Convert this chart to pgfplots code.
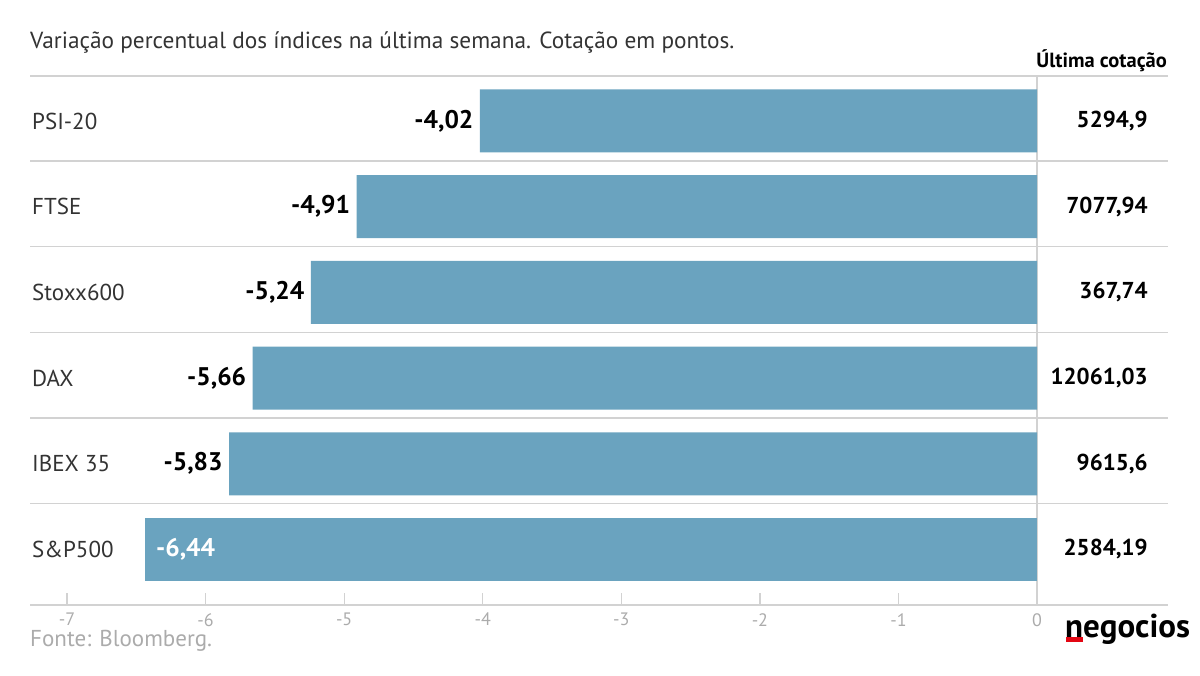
\documentclass[border=0pt]{standalone}
\usepackage{pgfplots}
\pgfplotsset{compat=1.18}
\usepackage{fontspec}
\setmainfont{PT Sans}

\definecolor{barblue}{HTML}{6AA3BF}
\definecolor{sepgray}{HTML}{D2D2D2}
\definecolor{txtgray}{HTML}{333333}
\definecolor{tickgray}{HTML}{ABABAB}
\definecolor{logored}{HTML}{E30613}

% variação semanal (%)
\pgfplotstableread{
y    val    lab
0   -4.02   -4,02
-1  -4.91   -4,91
-2  -5.24   -5,24
-3  -5.66   -5,66
-4  -5.83   -5,83
}\vartab
\pgfplotstableread{
y    val    lab
-5  -6.44   -6,44
}\sptab
% última cotação
\pgfplotstableread{
x     y    last
0.80  0    5294,9
0.80  -1   7077,94
0.80  -2   367,74
0.80  -3   12061,03
0.80  -4   9615,6
0.80  -5   2584,19
}\lasttab

\begin{document}
\begin{tikzpicture}
  \path (0,0) rectangle (1200pt,676pt);

  \begin{axis}[
    at={(30pt,71pt)}, anchor=south west,
    scale only axis, width=1138pt, height=529pt,
    xmin=-7.267, xmax=0.945, ymin=-5.648, ymax=0.525,
    clip=false,
    axis x line=bottom, axis y line=left,
    x axis line style={draw=sepgray, line width=1.2pt, -},
    y axis line style={draw=none, -},
    xtick={-7,-6,...,0},
    xticklabels={-7,-6,-5,-4,-3,-2,-1,0},
    xtick align=inside, ytick align=inside, major tick length=12pt,
    xtick style={draw=sepgray, line width=1.2pt},
    xticklabel style={text=tickgray, inner ysep=0pt, yshift=-8pt,
      font=\fontsize{18}{18}\selectfont},
    extra x ticks={0}, extra x tick labels={},
    extra x tick style={grid=major, major grid style={draw=sepgray, line width=1.2pt}},
    ytick={0,-1,-2,-3,-4,-5},
    yticklabels={PSI-20,FTSE,Stoxx600,DAX,IBEX 35,S\&P500},
    ytick style={draw=none},
    yticklabel style={anchor=west, inner xsep=0pt, xshift=14pt, text=txtgray,
      font=\fontsize{23}{23}\selectfont},
    extra y ticks={0.525,-0.467,-1.467,-2.467,-3.467,-4.467},
    extra y tick labels={},
    extra y tick style={grid=major, major grid style={draw=sepgray, line width=1.2pt}},
    xbar, bar width=63pt, bar shift=0pt,
  ]
    \addplot[fill=barblue, draw=none,
      nodes near coords, point meta=explicit symbolic,
      nodes near coords style={anchor=east, xshift=-3pt, text=black,
        font=\bfseries\fontsize{25.5}{25.5}\selectfont}]
      table[x=val, y=y, meta=lab]{\vartab};
    \addplot[fill=barblue, draw=none,
      nodes near coords, point meta=explicit symbolic,
      nodes near coords style={anchor=west, xshift=8pt, text=white,
        font=\bfseries\fontsize{25.5}{25.5}\selectfont}]
      table[x=val, y=y, meta=lab]{\sptab};
    \addplot[draw=none, mark=none, xbar=0pt, forget plot,
      nodes near coords, point meta=explicit symbolic,
      nodes near coords style={anchor=east, inner xsep=0pt, text=black,
        font=\bfseries\fontsize{23}{23}\selectfont}]
      table[x=x, y=y, meta=last]{\lasttab};
  \end{axis}

  \node[anchor=base west, inner sep=0pt, text=txtgray,
    font=\fontsize{23.3}{23.3}\selectfont] at (30pt,627pt)
    {Variação percentual dos índices na última semana. Cotação em pontos.};
  \node[anchor=base east, inner sep=0pt, text=black,
    font=\bfseries\fontsize{20.5}{20.5}\selectfont] at (1167pt,608pt)
    {Última cotação};
  \node[anchor=base west, inner sep=0pt, text=tickgray,
    font=\fontsize{23}{23}\selectfont] at (30pt,29pt)
    {Fonte: Bloomberg.};
  \node[anchor=base west, inner sep=0pt, text=black,
    font=\bfseries\fontsize{33}{33}\selectfont] at (1065pt,38pt)
    {negocios};
  \fill[logored] (1066pt,34pt) rectangle (1083pt,39pt);
\end{tikzpicture}
\end{document}
